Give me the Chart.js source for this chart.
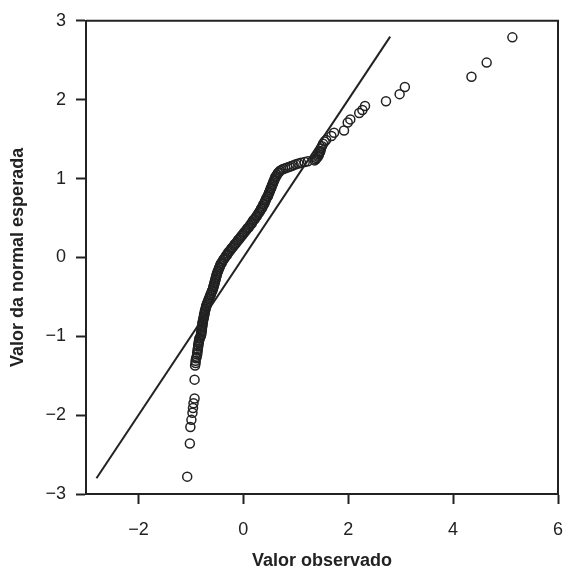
<!DOCTYPE html>
<html>
<head>
<meta charset="utf-8">
<script src="https://cdn.jsdelivr.net/npm/chart.js@4.4.1/dist/chart.umd.min.js"></script>
<style>
  html, body { margin: 0; padding: 0; background: #fff; }
  #wrap { width: 564px; height: 572px; }
</style>
</head>
<body>
<div id="wrap"><canvas id="qq" width="564" height="572"></canvas></div>
<script>
// observed values (x) and expected normal values (y), read off the plot
// lower tail
const obsInf = [-1.07, -1.02, -1.01, -0.99, -0.97, -0.96, -0.95, -0.93, -0.93,
  -0.92, -0.91, -0.91, -0.90, -0.89, -0.88, -0.88, -0.87, -0.87, -0.86, -0.86,
  -0.85, -0.85, -0.84, -0.84, -0.83];
const espInf = [-2.78, -2.36, -2.15, -2.06, -1.97, -1.91, -1.85, -1.79, -1.55,
  -1.37, -1.34, -1.31, -1.28, -1.26, -1.23, -1.21, -1.18, -1.16, -1.13, -1.11,
  -1.09, -1.07, -1.05, -1.03, -1.02];
// dense middle band
const obsMeio = [
  -0.81, -0.81, -0.80, -0.80, -0.80, -0.79,
  -0.79, -0.79, -0.78, -0.78, -0.78, -0.77,
  -0.77, -0.76, -0.76, -0.75, -0.75, -0.74,
  -0.74, -0.73, -0.73, -0.72, -0.71, -0.71,
  -0.70, -0.69, -0.68, -0.67, -0.66, -0.65,
  -0.64, -0.63, -0.62, -0.61, -0.60, -0.59,
  -0.58, -0.57, -0.57, -0.56, -0.55, -0.55,
  -0.54, -0.53, -0.53, -0.52, -0.51, -0.51,
  -0.50, -0.49, -0.48, -0.47, -0.46, -0.45,
  -0.44, -0.43, -0.41, -0.40, -0.38, -0.37,
  -0.35, -0.33, -0.31, -0.30, -0.28, -0.26,
  -0.24, -0.22, -0.20, -0.18, -0.16, -0.14,
  -0.12, -0.10, -0.08, -0.06, -0.04, -0.02,
  0.00, 0.02, 0.04, 0.06, 0.08, 0.10,
  0.12, 0.14, 0.16, 0.17, 0.19, 0.21,
  0.23, 0.25, 0.26, 0.28, 0.30, 0.31,
  0.33, 0.34, 0.36, 0.37, 0.38, 0.40,
  0.41, 0.42, 0.43, 0.44, 0.46, 0.47,
  0.48, 0.49, 0.50, 0.51, 0.52, 0.53,
  0.54, 0.55, 0.56, 0.57, 0.58, 0.59,
  0.60, 0.61, 0.63, 0.64, 0.66, 0.68,
  0.70, 0.73, 0.76, 0.80, 0.84, 0.88, 0.92, 0.96, 1.00, 1.05, 1.10, 1.17, 1.23
];
const espMeio = [
  -1.00, -0.98, -0.97, -0.95, -0.93, -0.92,
  -0.90, -0.88, -0.87, -0.85, -0.83, -0.82,
  -0.80, -0.78, -0.77, -0.75, -0.73, -0.72,
  -0.70, -0.68, -0.67, -0.65, -0.63, -0.62,
  -0.60, -0.58, -0.57, -0.55, -0.53, -0.52,
  -0.50, -0.48, -0.47, -0.45, -0.43, -0.42,
  -0.40, -0.38, -0.37, -0.35, -0.33, -0.32,
  -0.30, -0.28, -0.27, -0.25, -0.23, -0.22,
  -0.20, -0.18, -0.17, -0.15, -0.13, -0.12,
  -0.10, -0.08, -0.07, -0.05, -0.03, -0.02,
  0.00, 0.02, 0.03, 0.05, 0.07, 0.08,
  0.10, 0.12, 0.13, 0.15, 0.17, 0.18,
  0.20, 0.22, 0.23, 0.25, 0.27, 0.28,
  0.30, 0.32, 0.33, 0.35, 0.37, 0.38,
  0.40, 0.42, 0.43, 0.45, 0.47, 0.48,
  0.50, 0.52, 0.53, 0.55, 0.57, 0.58,
  0.60, 0.62, 0.63, 0.65, 0.67, 0.68,
  0.70, 0.72, 0.73, 0.75, 0.77, 0.78,
  0.80, 0.82, 0.83, 0.85, 0.87, 0.88,
  0.90, 0.92, 0.93, 0.95, 0.97, 0.98,
  1.00, 1.02, 1.03, 1.05, 1.07, 1.08,
  1.10, 1.11, 1.12, 1.13, 1.14, 1.15, 1.16, 1.17, 1.18, 1.19, 1.20, 1.21, 1.22
];
// upper tail
const obsSup = [1.36, 1.38, 1.40, 1.42, 1.43, 1.44, 1.45, 1.46, 1.47, 1.48, 1.50, 1.52, 1.55,
  1.58, 1.68, 1.73, 1.92, 1.99, 2.04, 2.21, 2.27, 2.32,
  2.72, 2.98, 3.08, 4.35, 4.64, 5.13];
const espSup = [1.23, 1.245, 1.26, 1.275, 1.29, 1.305, 1.32, 1.335, 1.35, 1.38, 1.41, 1.44, 1.47,
  1.49, 1.54, 1.58, 1.61, 1.71, 1.75, 1.83, 1.87, 1.92,
  1.98, 2.07, 2.16, 2.29, 2.47, 2.79];
// reference line ends
const linhaX = [-2.8, 2.8];
const linhaY = [-2.8, 2.8];
// tick labels
const xTicks = [-2, 0, 2, 4, 6];
const yTicks = [-3, -2, -1, 0, 1, 2, 3];

const ink = '#222';
const fontFam = '"Liberation Sans", Arial, Helvetica, sans-serif';

const observado = obsInf.concat(obsMeio, obsSup);
const esperado = espInf.concat(espMeio, espSup);
const pontos = observado.map((v, i) => ({ x: v, y: esperado[i] }));
const linha = linhaX.map((v, i) => ({ x: v, y: linhaY[i] }));

const fmt = v => (v < 0 ? '\u2212' + Math.abs(v) : String(v));

// draws the top and right edges of the frame
const frame = {
  id: 'frame',
  afterDraw(chart) {
    const { ctx, chartArea: a } = chart;
    ctx.save();
    ctx.strokeStyle = ink;
    ctx.lineWidth = 2;
    ctx.beginPath();
    ctx.moveTo(a.left, a.top);
    ctx.lineTo(a.right, a.top);
    ctx.lineTo(a.right, a.bottom);
    ctx.stroke();
    ctx.restore();
  }
};

new Chart(document.getElementById('qq'), {
  type: 'scatter',
  data: {
    datasets: [
      {
        data: pontos,
        pointRadius: 4.5,
        pointBorderWidth: 1.5,
        pointBorderColor: ink,
        pointBackgroundColor: 'rgba(0,0,0,0)',
        pointHoverRadius: 4.5
      },
      {
        type: 'line',
        data: linha,
        borderColor: ink,
        borderWidth: 2,
        pointRadius: 0,
        fill: false
      }
    ]
  },
  options: {
    responsive: false,
    animation: false,
    layout: { padding: { left: 0, right: 5, top: 20, bottom: 0 } },
    plugins: { legend: { display: false }, tooltip: { enabled: false } },
    scales: {
      x: {
        type: 'linear',
        min: -3,
        max: 6,
        afterBuildTicks: s => { s.ticks = xTicks.map(v => ({ value: v })); },
        afterFit: s => { s.height = 78; s.paddingRight = 0; s.paddingLeft = 0; },
        ticks: { callback: fmt, color: ink, padding: 15, font: { family: fontFam, size: 18 } },
        grid: { drawOnChartArea: false, drawTicks: true, tickLength: 10, tickColor: ink, tickWidth: 2 },
        border: { display: true, color: ink, width: 2 },
        title: { display: true, text: 'Valor observado', color: ink, padding: { top: 0, bottom: 0 },
                 font: { family: fontFam, size: 18, weight: 'bold' } }
      },
      y: {
        type: 'linear',
        min: -3,
        max: 3,
        afterBuildTicks: s => { s.ticks = yTicks.map(v => ({ value: v })); },
        afterFit: s => { s.width = 86; },
        ticks: { callback: fmt, color: ink, padding: 10, font: { family: fontFam, size: 18 } },
        grid: { drawOnChartArea: false, drawTicks: true, tickLength: 10, tickColor: ink, tickWidth: 2 },
        border: { display: true, color: ink, width: 2 },
        title: { display: true, text: 'Valor da normal esperada', color: ink, padding: { top: 7, bottom: 0 },
                 font: { family: fontFam, size: 18, weight: 'bold' } }
      }
    }
  },
  plugins: [frame]
});
</script>
</body>
</html>
